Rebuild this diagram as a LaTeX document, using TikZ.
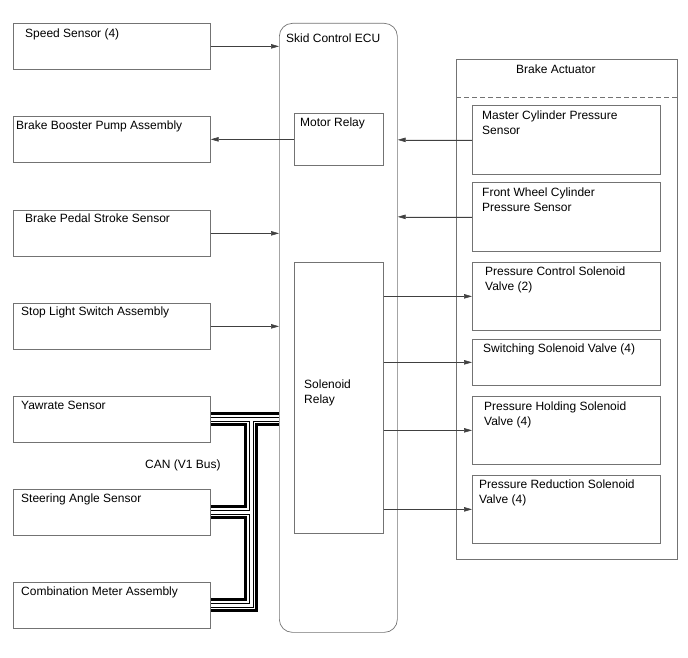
\documentclass[tikz,border=0pt]{standalone}
\usepackage{fontspec}
\setmainfont{Liberation Sans}
\usetikzlibrary{arrows.meta,calc,backgrounds}

\begin{document}
\begin{tikzpicture}[x=1pt, y=-1pt, >={Triangle[length=8pt,width=4.5pt]},
    box/.style={draw=black!55, line width=0.7pt, inner sep=0pt, anchor=north west},
    lbl/.style={anchor=north west, inner sep=0pt, align=left, font=\fontsize{12}{15}\selectfont},
    arr/.style={->, draw=black!75, fill=black!75, line width=0.6pt}]
    \useasboundingbox (0,0) rectangle (688,658);

    % 左侧模块
    \node[box, minimum width=197, minimum height=46] (speed) at (13,23) {};
    \node[box, minimum width=197, minimum height=46] (booster) at (13,116) {};
    \node[box, minimum width=197, minimum height=46] (pedal) at (13,210) {};
    \node[box, minimum width=197, minimum height=46] (stop) at (13,303) {};
    \node[box, minimum width=197, minimum height=46] (yaw) at (13,396) {};
    \node[box, minimum width=197, minimum height=46] (steer) at (13,489) {};
    \node[box, minimum width=197, minimum height=46] (comb) at (13,582) {};

    \node[lbl] (speedtxt) at (25,29) {Speed Sensor (4)};
    \node[lbl] (boostertxt) at (16,121) {Brake Booster Pump Assembly};
    \node[lbl] (pedaltxt) at (25,214) {Brake Pedal Stroke Sensor};
    \node[lbl] (stoptxt) at (21,307) {Stop Light Switch Assembly};
    \node[lbl] (yawtxt) at (21,401) {Yawrate Sensor};
    \node[lbl] (steertxt) at (21,494) {Steering Angle Sensor};
    \node[lbl] (combtxt) at (21,587) {Combination Meter Assembly};
    \node[lbl] (cantxt) at (145,460) {CAN (V1 Bus)};

    % ECU 及其内部继电器
    \node[box, rounded corners=13pt, minimum width=118, minimum height=609] (ecu) at (279,23) {};
    \node[box, minimum width=89, minimum height=52] (motor) at (294,113) {};
    \node[box, minimum width=89, minimum height=271] (solenoid) at (294,262) {};

    \node[lbl] (ecutxt) at (286,34) {Skid Control ECU};
    \node[lbl] (motortxt) at (300,118) {Motor Relay};
    \node[lbl] (solenoidtxt) at (304,380) {Solenoid\\Relay};

    % 制动执行器
    \node[box, minimum width=221, minimum height=500] (act) at (456,59) {};
    \draw[draw=black!55, line width=0.7pt, dash pattern=on 5pt off 3pt]
        ($(act.north west)+(0,38)$) -- ($(act.north east)+(0,38)$);
    \node[lbl] (acttxt) at (516,65) {Brake Actuator};

    \node[box, minimum width=188, minimum height=69] (master) at (472,105) {};
    \node[box, minimum width=188, minimum height=69] (front) at (472,182) {};
    \node[box, minimum width=188, minimum height=68] (pcv) at (472,262) {};
    \node[box, minimum width=188, minimum height=46] (swv) at (472,339) {};
    \node[box, minimum width=188, minimum height=68] (phv) at (472,396) {};
    \node[box, minimum width=188, minimum height=68] (prv) at (472,475) {};

    \node[lbl] (mastertxt) at (482,111) {Master Cylinder Pressure\\Sensor};
    \node[lbl] (fronttxt) at (482,188) {Front Wheel Cylinder\\Pressure Sensor};
    \node[lbl] (pcvtxt) at (485,267) {Pressure Control Solenoid\\Valve (2)};
    \node[lbl] (swvtxt) at (483,344) {Switching Solenoid Valve (4)};
    \node[lbl] (phvtxt) at (484,402) {Pressure Holding Solenoid\\Valve (4)};
    \node[lbl] (prvtxt) at (479,480) {Pressure Reduction Solenoid\\Valve (4)};

    % 信号箭头
    \draw[arr] (speed.east) -- (speed.east -| ecu.west);
    \draw[arr] (motor.west) -- (motor.west -| booster.east);
    \draw[arr] (pedal.east) -- (pedal.east -| ecu.west);
    \draw[arr] (stop.east) -- (stop.east -| ecu.west);
    \draw[arr] (master.west) -- (master.west -| ecu.east);
    \draw[arr] (front.west) -- (front.west -| ecu.east);
    \draw[arr] (pcv.west -| solenoid.east) -- (pcv.west);
    \draw[arr] (swv.west -| solenoid.east) -- (swv.west);
    \draw[arr] (phv.west -| solenoid.east) -- (phv.west);
    \draw[arr] (prv.west -| solenoid.east) -- (prv.west);

    % CAN 总线
    \coordinate (cj) at (251,0);
    \begin{scope}[on background layer]
        \foreach \w/\c in {14/black, 8/white, 5/black, 3/white} {
            \draw[\c, line width=\w pt]
                (yaw.east) -- (yaw.east -| ecu.west)
                (yaw.east -| cj) -- (comb.east -| cj) -- (comb.east)
                (steer.east) -- (steer.east -| cj);
        }
    \end{scope}
\end{tikzpicture}
\end{document}
